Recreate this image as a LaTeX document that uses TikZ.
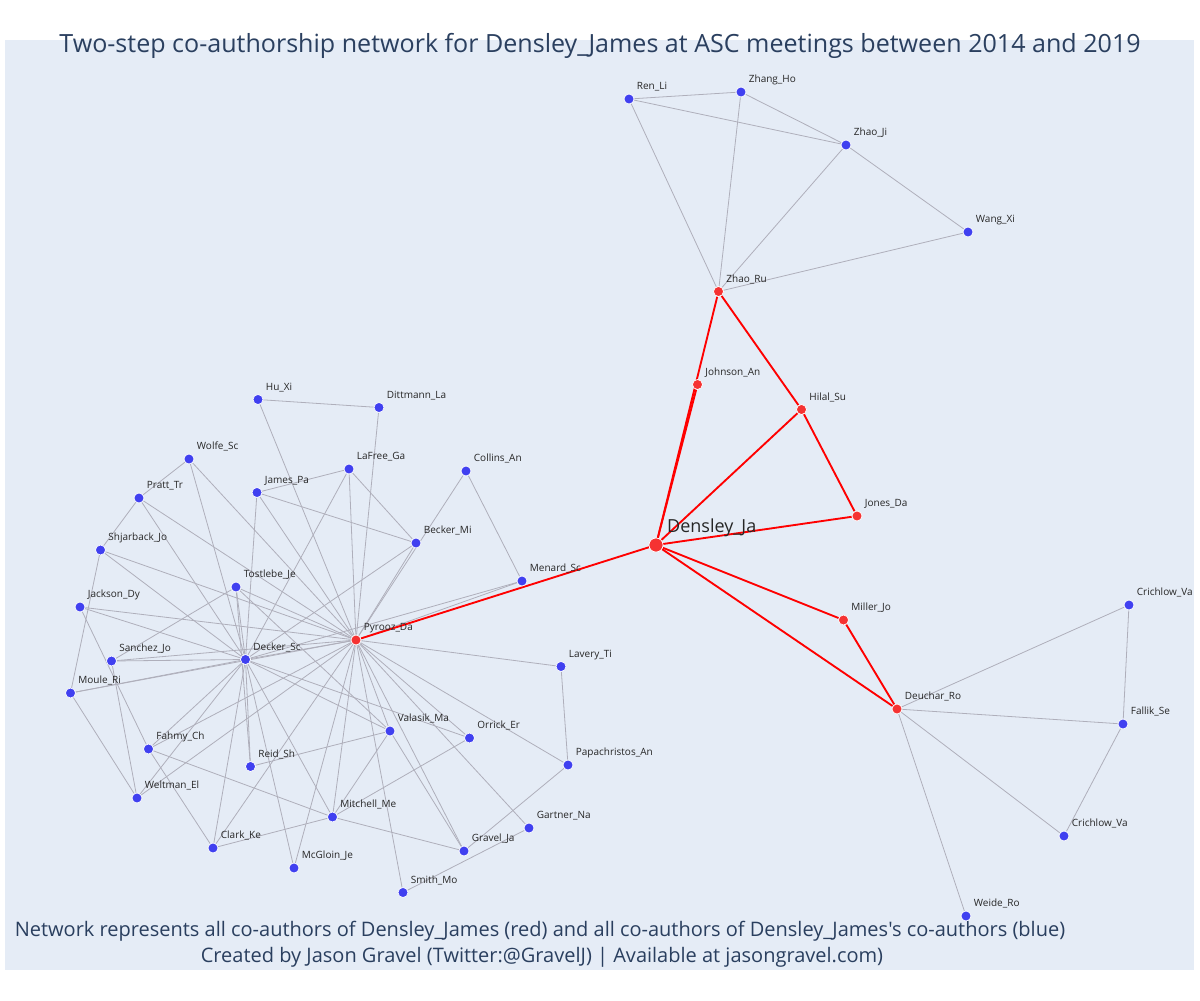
\documentclass[tikz,border=0pt]{standalone}
\usepackage{fontspec}
\setmainfont{Open Sans}[Ligatures=TeXOff]
\usetikzlibrary{backgrounds}
\definecolor{plotbg}{HTML}{E5ECF6}
\definecolor{titleblue}{HTML}{2A3F5F}
\definecolor{nodeblue}{RGB}{64,64,240}
\definecolor{nodered}{RGB}{245,50,50}
\definecolor{edgegray}{RGB}{175,175,187}
\definecolor{edgered}{RGB}{255,0,0}
\begin{document}
\begin{tikzpicture}[x=0.75pt, y=-0.75pt,
  au/.style={circle, inner sep=0pt, minimum size=7.5pt, draw=white, line width=0.5pt, fill=nodeblue},
  coau/.style={au, fill=nodered},
  lab/.style={anchor=base west, inner sep=0pt, xshift=2.9pt, yshift=4pt, font=\fontsize{7.5}{8.5}\selectfont, text=black!85},
  tie/.style={edgegray, line width=0.6pt},
  redtie/.style={edgered, line width=1.4pt}]
\useasboundingbox (0,0) rectangle (1200,1000);
\begin{scope}[on background layer]
\fill[plotbg] (5,40) rectangle (1194,970);
\end{scope}
\node[text=titleblue, font=\fontsize{18.8}{22}\selectfont] (title) at (600,46) {Two-step co-authorship network for Densley\_James at ASC meetings between 2014 and 2019};
\node[text=titleblue, font=\fontsize{15}{18}\selectfont] (note1) at (540,931) {Network represents all co-authors of Densley\_James (red) and all co-authors of Densley\_James's co-authors (blue)};
\node[text=titleblue, font=\fontsize{15}{18}\selectfont] (note2) at (542,957) {Created by Jason Gravel (Twitter:@GravelJ) | Available at jasongravel.com)};
\node[coau, minimum size=10.5pt, label={[lab, xshift=1.4pt, yshift=1.6pt, font=\fontsize{13.5}{15}\selectfont]north east:Densley\_Ja}] (densley) at (656,545){};
\node[coau, label={[lab]north east:Zhao\_Ru}] (zhaoru) at (718.5,291.5){};
\node[coau, label={[lab]north east:Johnson\_An}] (johnson) at (697.5,384.5){};
\node[coau, label={[lab]north east:Hilal\_Su}] (hilal) at (801.5,409.5){};
\node[coau, label={[lab]north east:Jones\_Da}] (jones) at (857,516){};
\node[coau, label={[lab]north east:Miller\_Jo}] (miller) at (843.5,620){};
\node[coau, label={[lab]north east:Deuchar\_Ro}] (deuchar) at (897,709){};
\node[coau, label={[lab]north east:Pyrooz\_Da}] (pyrooz) at (356,640){};
\node[au, label={[lab]north east:Ren\_Li}] (renli) at (629,99){};
\node[au, label={[lab]north east:Zhang\_Ho}] (zhangho) at (741,92){};
\node[au, label={[lab]north east:Zhao\_Ji}] (zhaoji) at (846,145){};
\node[au, label={[lab]north east:Wang\_Xi}] (wangxi) at (968,232){};
\node[au, label={[lab]north east:Crichlow\_Va}] (crichlowa) at (1129,605){};
\node[au, label={[lab]north east:Fallik\_Se}] (fallik) at (1123,724){};
\node[au, label={[lab]north east:Crichlow\_Va}] (crichlowb) at (1064,836){};
\node[au, label={[lab]north east:Weide\_Ro}] (weide) at (966,916){};
\node[au, label={[lab]north east:Hu\_Xi}] (hu) at (258,399.5){};
\node[au, label={[lab]north east:Dittmann\_La}] (dittmann) at (379,407.5){};
\node[au, label={[lab]north east:Wolfe\_Sc}] (wolfe) at (189,459){};
\node[au, label={[lab]north east:LaFree\_Ga}] (lafree) at (349,469){};
\node[au, label={[lab]north east:Collins\_An}] (collins) at (466,471){};
\node[au, label={[lab]north east:Pratt\_Tr}] (pratt) at (139,498){};
\node[au, label={[lab]north east:James\_Pa}] (jamespa) at (257,492.5){};
\node[au, label={[lab]north east:Becker\_Mi}] (becker) at (416,543){};
\node[au, label={[lab]north east:Shjarback\_Jo}] (shjarback) at (100.5,550){};
\node[au, label={[lab]north east:Menard\_Sc}] (menard) at (522,581){};
\node[au, label={[lab]north east:Tostlebe\_Je}] (tostlebe) at (236,587){};
\node[au, label={[lab]north east:Jackson\_Dy}] (jackson) at (80,607){};
\node[au, label={[lab]north east:Sanchez\_Jo}] (sanchez) at (111.5,661){};
\node[au, label={[lab]north east:Decker\_Sc}] (decker) at (245.5,659.5){};
\node[au, label={[lab]north east:Lavery\_Ti}] (lavery) at (561,666.5){};
\node[au, label={[lab]north east:Moule\_Ri}] (moule) at (70.5,693){};
\node[au, label={[lab]north east:Valasik\_Ma}] (valasik) at (390,731){};
\node[au, label={[lab]north east:Orrick\_Er}] (orrick) at (469.5,738){};
\node[au, label={[lab]north east:Fahmy\_Ch}] (fahmy) at (148.5,749){};
\node[au, label={[lab]north east:Reid\_Sh}] (reid) at (250.5,766.5){};
\node[au, label={[lab]north east:Papachristos\_An}] (papachristos) at (568,765){};
\node[au, label={[lab]north east:Weltman\_El}] (weltman) at (137,798){};
\node[au, label={[lab]north east:Mitchell\_Me}] (mitchell) at (332.5,817){};
\node[au, label={[lab]north east:Gartner\_Na}] (gartner) at (529,828){};
\node[au, label={[lab]north east:Clark\_Ke}] (clark) at (213,848){};
\node[au, label={[lab]north east:Gravel\_Ja}] (gravel) at (464,851){};
\node[au, label={[lab]north east:McGloin\_Je}] (mcgloin) at (294,868){};
\node[au, label={[lab]north east:Smith\_Mo}] (smith) at (403,892.5){};
\begin{scope}[on background layer]
\draw[tie](renli) -- (zhangho);
\draw[tie](renli) -- (zhaoji);
\draw[tie](renli) -- (zhaoru);
\draw[tie](zhangho) -- (zhaoji);
\draw[tie](zhangho) -- (zhaoru);
\draw[tie](zhaoji) -- (zhaoru);
\draw[tie](zhaoji) -- (wangxi);
\draw[tie](wangxi) -- (zhaoru);
\draw[tie](deuchar) -- (crichlowa);
\draw[tie](deuchar) -- (fallik);
\draw[tie](deuchar) -- (crichlowb);
\draw[tie](deuchar) -- (weide);
\draw[tie](crichlowa) -- (fallik);
\draw[tie](fallik) -- (crichlowb);
\draw[tie](hu) -- (dittmann);
\draw[tie](wolfe) -- (pratt);
\draw[tie](pratt) -- (shjarback);
\draw[tie](shjarback) -- (moule);
\draw[tie](jamespa) -- (lafree);
\draw[tie](jamespa) -- (becker);
\draw[tie](lafree) -- (becker);
\draw[tie](collins) -- (menard);
\draw[tie](menard) -- (decker);
\draw[tie](tostlebe) -- (sanchez);
\draw[tie](tostlebe) -- (reid);
\draw[tie](tostlebe) -- (valasik);
\draw[tie](jackson) -- (fahmy);
\draw[tie](sanchez) -- (weltman);
\draw[tie](moule) -- (weltman);
\draw[tie](fahmy) -- (clark);
\draw[tie](fahmy) -- (mitchell);
\draw[tie](reid) -- (valasik);
\draw[tie](valasik) -- (mitchell);
\draw[tie](valasik) -- (gravel);
\draw[tie](orrick) -- (mitchell);
\draw[tie](mitchell) -- (clark);
\draw[tie](mitchell) -- (gravel);
\draw[tie](lavery) -- (papachristos);
\draw[tie](papachristos) -- (gravel);
\draw[tie](smith) -- (gartner);
\foreach \a in {wolfe,pratt,shjarback,jamespa,lafree,becker,tostlebe,jackson,sanchez,moule,reid,mitchell,mcgloin,clark,fahmy,weltman,valasik,orrick}
  \draw[tie](decker) -- (\a);
\foreach \a in {hu,dittmann,lafree,becker,collins,menard,wolfe,pratt,jamespa,shjarback,tostlebe,jackson,sanchez,moule,decker,lavery,valasik,orrick,papachristos,gartner,gravel,smith,mitchell,mcgloin,clark,weltman,fahmy}
  \draw[tie](pyrooz) -- (\a);
\draw[redtie](densley) -- (pyrooz);
\draw[redtie](densley) -- (zhaoru);
\draw[redtie](densley) -- (johnson);
\draw[redtie](zhaoru) -- (hilal);
\draw[redtie](densley) -- (hilal);
\draw[redtie](hilal) -- (jones);
\draw[redtie](densley) -- (jones);
\draw[redtie](densley) -- (miller);
\draw[redtie](miller) -- (deuchar);
\draw[redtie](densley) -- (deuchar);
\end{scope}
\end{tikzpicture}
\end{document}
